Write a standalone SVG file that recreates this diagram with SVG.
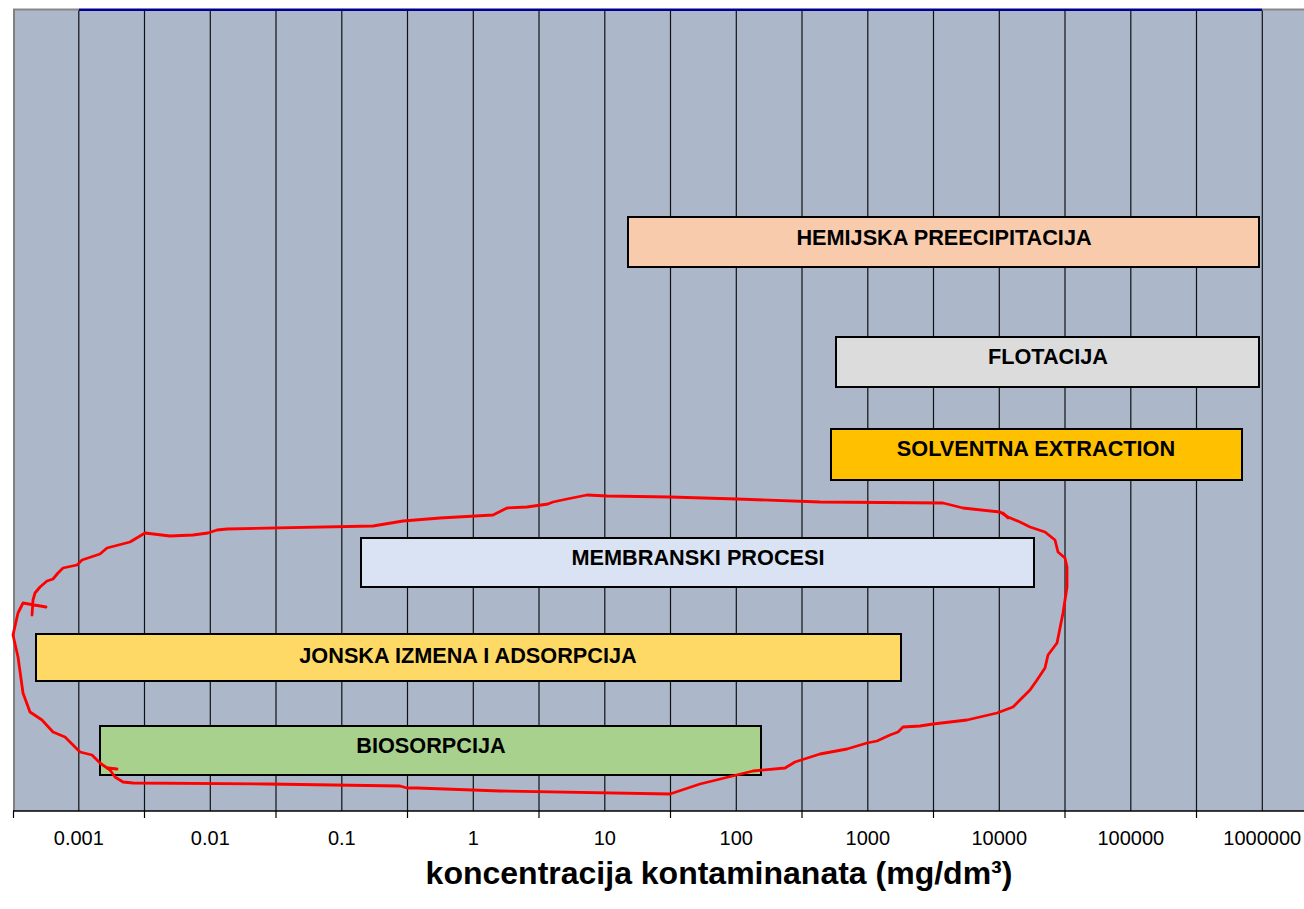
<svg xmlns="http://www.w3.org/2000/svg" width="1304" height="909" viewBox="0 0 1304 909">
<style>
.grid{stroke:#111;stroke-width:1.2}
.tick{stroke:#000;stroke-width:1.2}
.bar{stroke:#000;stroke-width:2}
.blbl{font-family:"Liberation Sans",Arial,sans-serif;font-weight:bold;font-size:21.7px;text-anchor:middle;fill:#000}
.tlbl{font-family:"Liberation Sans",Arial,sans-serif;font-size:20px;text-anchor:middle;fill:#000}
.title{font-family:"Liberation Sans",Arial,sans-serif;font-weight:bold;font-size:32px;text-anchor:middle;fill:#000}
.red{fill:none;stroke:#FF0000;stroke-width:2.8;stroke-linejoin:round;stroke-linecap:round}
</style>
<rect width="1304" height="909" fill="#fff"/>
<g id="plot">
<rect x="13" y="9" width="1291" height="802" fill="#ACB8CA"/>
<g id="gridlines">
<line class="grid" x1="78.8" y1="10" x2="78.8" y2="811"/>
<line class="grid" x1="144.5" y1="10" x2="144.5" y2="811"/>
<line class="grid" x1="210.3" y1="10" x2="210.3" y2="811"/>
<line class="grid" x1="276" y1="10" x2="276" y2="811"/>
<line class="grid" x1="341.8" y1="10" x2="341.8" y2="811"/>
<line class="grid" x1="407.5" y1="10" x2="407.5" y2="811"/>
<line class="grid" x1="473.3" y1="10" x2="473.3" y2="811"/>
<line class="grid" x1="539" y1="10" x2="539" y2="811"/>
<line class="grid" x1="604.8" y1="10" x2="604.8" y2="811"/>
<line class="grid" x1="670.5" y1="10" x2="670.5" y2="811"/>
<line class="grid" x1="736.3" y1="10" x2="736.3" y2="811"/>
<line class="grid" x1="802" y1="10" x2="802" y2="811"/>
<line class="grid" x1="867.8" y1="10" x2="867.8" y2="811"/>
<line class="grid" x1="933.5" y1="10" x2="933.5" y2="811"/>
<line class="grid" x1="999.3" y1="10" x2="999.3" y2="811"/>
<line class="grid" x1="1065" y1="10" x2="1065" y2="811"/>
<line class="grid" x1="1130.8" y1="10" x2="1130.8" y2="811"/>
<line class="grid" x1="1196.5" y1="10" x2="1196.5" y2="811"/>
<line class="grid" x1="1262.3" y1="10" x2="1262.3" y2="811"/>
</g>
<line x1="13" y1="9.5" x2="79" y2="9.5" stroke="#888" stroke-width="2"/>
<line x1="79" y1="9.8" x2="1262" y2="9.8" stroke="#000090" stroke-width="2.6"/>
<line x1="1262" y1="9.5" x2="1304" y2="9.5" stroke="#888" stroke-width="2"/>
<line x1="14" y1="9" x2="14" y2="811" stroke="#808080" stroke-width="2"/>
</g>
<g id="axis">
<line x1="13" y1="811" x2="1304" y2="811" stroke="#000" stroke-width="1.5"/>
<line class="tick" x1="13.5" y1="811" x2="13.5" y2="818"/>
<line class="tick" x1="144.5" y1="811" x2="144.5" y2="818"/>
<line class="tick" x1="276" y1="811" x2="276" y2="818"/>
<line class="tick" x1="407.5" y1="811" x2="407.5" y2="818"/>
<line class="tick" x1="539" y1="811" x2="539" y2="818"/>
<line class="tick" x1="670.5" y1="811" x2="670.5" y2="818"/>
<line class="tick" x1="802" y1="811" x2="802" y2="818"/>
<line class="tick" x1="933.5" y1="811" x2="933.5" y2="818"/>
<line class="tick" x1="1065" y1="811" x2="1065" y2="818"/>
<line class="tick" x1="1196.5" y1="811" x2="1196.5" y2="818"/>
<text class="tlbl" x="78.8" y="845">0.001</text>
<text class="tlbl" x="210.3" y="845">0.01</text>
<text class="tlbl" x="341.8" y="845">0.1</text>
<text class="tlbl" x="473.3" y="845">1</text>
<text class="tlbl" x="604.8" y="845">10</text>
<text class="tlbl" x="736.3" y="845">100</text>
<text class="tlbl" x="867.8" y="845">1000</text>
<text class="tlbl" x="999.3" y="845">10000</text>
<text class="tlbl" x="1130.8" y="845">100000</text>
<text class="tlbl" x="1262.3" y="845">1000000</text>
<text class="title" x="719" y="884">koncentracija kontaminanata (mg/dm³)</text>
</g>
<g id="hemijska">
<rect class="bar" x="628" y="217" width="631" height="50" fill="#F8CBAD"/>
<text class="blbl" x="944" y="245">HEMIJSKA PREECIPITACIJA</text>
</g>
<g id="flotacija">
<rect class="bar" x="836" y="337" width="423" height="50" fill="#DCDCDC"/>
<text class="blbl" x="1048" y="364">FLOTACIJA</text>
</g>
<g id="solventna">
<rect class="bar" x="831" y="429" width="411" height="51" fill="#FFC000"/>
<text class="blbl" x="1036" y="456">SOLVENTNA EXTRACTION</text>
</g>
<g id="membranski">
<rect class="bar" x="361" y="538" width="673" height="49" fill="#DAE3F3"/>
<text class="blbl" x="698" y="565">MEMBRANSKI PROCESI</text>
</g>
<g id="jonska">
<rect class="bar" x="36" y="634" width="865" height="47" fill="#FFD966"/>
<text class="blbl" x="468" y="663">JONSKA IZMENA I ADSORPCIJA</text>
</g>
<g id="biosorpcija">
<rect class="bar" x="100" y="726" width="661" height="49" fill="#A9D18E"/>
<text class="blbl" x="431" y="753">BIOSORPCIJA</text>
</g>
<g id="connectors">
<path class="red" d="M32,615 L33,600 L35,593 L40,587 L47,581 L53,579 L58,573 L63,568 L77,565 L82,560 L100,554 L107,548 L130,542 L145,533 L170,536 L193,535 L208,533 L217,530 L227,529 L373,526 L403,521 L440,518 L493,515 L507,508 L527,507 L548,504 L553,502 L567,499 L587,495 L607,496 L670,497 L737,499 L820,502 L943,503 L963,508 L1000,512 L1008,517 L1020,522 L1030,527 L1045,532 L1055,540 L1058,552 L1065,558 L1067,567 L1067,587 L1063,613 L1057,643 L1048,655 L1045,668 L1037,680 L1030,690 L1013,707 L997,713 L967,720 L933,724 L920,726 L903,727 L898,732 L890,735 L877,741 L867,743 L847,749 L820,754 L795,762 L785,768 L753,771 L700,784 L670,794 L500,791 L417,788 L407,788 L400,786 L267,784 L133,783 L123,782 L115,777 L110,770 L100,763 L92,755 L80,752 L65,737 L53,732 L42,720 L30,712 L23,693 L18,657 L13,635 L18,613 L23,603 L46,607"/>
<path class="red" d="M108,768 L117,769 M1003,513 L1008,518"/>
</g>
</svg>
